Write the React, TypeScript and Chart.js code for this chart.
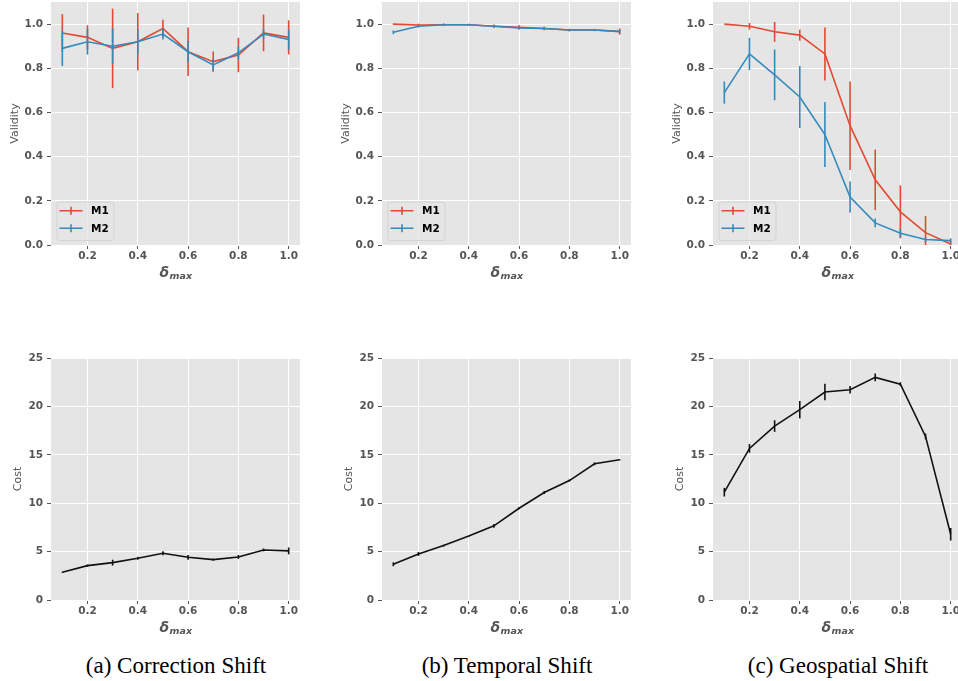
import React, { useEffect, useRef } from "react";
import { Chart, registerables } from "chart.js";

Chart.register(...registerables);

// ---------------- data ----------------
const deltaValues = [0.1, 0.2, 0.3, 0.4, 0.5, 0.6, 0.7, 0.8, 0.9, 1.0];
const xTickValues = [0.2, 0.4, 0.6, 0.8, 1.0];
const validityTicks = [0, 0.2, 0.4, 0.6, 0.8, 1.0];
const costTicks = [0, 5, 10, 15, 20, 25];

const corrM1 = [0.96, 0.94, 0.89, 0.92, 0.98, 0.875, 0.83, 0.86, 0.96, 0.94];
const corrM1Err = [0.085, 0.055, 0.18, 0.13, 0.04, 0.11, 0.046, 0.078, 0.083, 0.077];
const corrM2 = [0.89, 0.92, 0.9, 0.92, 0.955, 0.875, 0.815, 0.87, 0.955, 0.93];
const corrM2Err = [0.08, 0.058, 0.08, 0.057, 0.025, 0.048, 0.027, 0.03, 0.022, 0.045];

const tempM1 = [1.0, 0.996, 0.997, 0.997, 0.99, 0.985, 0.98, 0.973, 0.973, 0.966];
const tempM1Err = [0.002, 0.006, 0.006, 0.005, 0.008, 0.01, 0.008, 0.006, 0.005, 0.014];
const tempM2 = [0.963, 0.99, 0.997, 0.997, 0.99, 0.983, 0.98, 0.973, 0.973, 0.967];
const tempM2Err = [0.008, 0.006, 0.003, 0.003, 0.005, 0.006, 0.005, 0.005, 0.004, 0.008];

const geoM1 = [1.0, 0.99, 0.965, 0.95, 0.865, 0.54, 0.295, 0.15, 0.056, 0.005];
const geoM1Err = [0.0, 0.015, 0.045, 0.025, 0.12, 0.2, 0.137, 0.12, 0.075, 0.01];
const geoM2 = [0.69, 0.865, 0.77, 0.67, 0.5, 0.217, 0.1, 0.053, 0.025, 0.02];
const geoM2Err = [0.05, 0.073, 0.115, 0.14, 0.147, 0.07, 0.02, 0.018, 0.01, 0.01];

const corrCost = [2.86, 3.55, 3.86, 4.31, 4.83, 4.41, 4.17, 4.45, 5.17, 5.07];
const corrCostErr = [0.05, 0.12, 0.3, 0.15, 0.2, 0.25, 0.1, 0.2, 0.15, 0.35];
const tempCost = [3.69, 4.76, 5.62, 6.6, 7.66, 9.48, 11.1, 12.34, 14.07, 14.48];
const tempCostErr = [0.2, 0.2, 0.1, 0.05, 0.2, 0.1, 0.15, 0.1, 0.15, 0.05];
const geoCost = [11.14, 15.66, 17.97, 19.66, 21.48, 21.72, 23.0, 22.3, 16.9, 6.79];
const geoCostErr = [0.45, 0.45, 0.6, 0.9, 0.85, 0.4, 0.4, 0.2, 0.3, 0.65];

const captions = ["(a) Correction Shift", "(b) Temporal Shift", "(c) Geospatial Shift"];

// ---------------- style ----------------
const FONT = "'DejaVu Sans', 'Noto Sans', sans-serif";
const RED = "#E24A33";
const BLUE = "#348ABD";
const BLACK = "#111111";
const GRAY_BG = "#E5E5E5";
const TEXT_GRAY = "#555555";

const YW = 50; // y-axis box width
const PT = 12; // layout padding top
const PR = 14; // layout padding right
const XH = 40; // x-axis box height
const PLOT_W = 249;

const colLeft = [51, 382, 713];
const rowTop = [2, 358];
const rowH = [243, 242];

// ---------------- plugins ----------------
const bgPlugin = {
  id: "bgArea",
  beforeDraw(chart: any) {
    const a = chart.chartArea;
    const ctx = chart.ctx;
    ctx.save();
    ctx.fillStyle = GRAY_BG;
    ctx.fillRect(a.left, a.top, a.right - a.left, a.bottom - a.top);
    ctx.restore();
  },
};

const errorBarPlugin = {
  id: "errorBars",
  afterDatasetDraw(chart: any, args: any) {
    const ds: any = chart.data.datasets[args.index];
    if (!ds.errors) return;
    const xs = chart.scales.x;
    const ys = chart.scales.y;
    const a = chart.chartArea;
    const ctx = chart.ctx;
    ctx.save();
    ctx.beginPath();
    ctx.rect(a.left, a.top, a.right - a.left, a.bottom - a.top);
    ctx.clip();
    ctx.strokeStyle = ds.borderColor;
    ctx.lineWidth = 1.6;
    ds.data.forEach((p: any, i: number) => {
      const e = Math.max(ds.errors[i], 0.0001);
      const x = xs.getPixelForValue(p.x);
      ctx.beginPath();
      ctx.moveTo(x, ys.getPixelForValue(p.y - e));
      ctx.lineTo(x, ys.getPixelForValue(p.y + e));
      ctx.stroke();
    });
    ctx.restore();
  },
};

const insetLegendPlugin = {
  id: "insetLegend",
  afterDraw(chart: any, _args: any, opts: any) {
    if (!opts || !opts.show) return;
    const a = chart.chartArea;
    const ctx = chart.ctx;
    const bx = a.left + 5.5;
    const by = a.bottom - 43.5;
    const bw = 57;
    const bh = 38.5;
    ctx.save();
    ctx.fillStyle = "rgba(229,229,229,0.8)";
    ctx.strokeStyle = "#D3D3D3";
    ctx.lineWidth = 1;
    ctx.beginPath();
    if (ctx.roundRect) ctx.roundRect(bx + 0.5, by + 0.5, bw, bh, 3);
    else ctx.rect(bx + 0.5, by + 0.5, bw, bh);
    ctx.fill();
    ctx.stroke();
    const dss = [...chart.data.datasets];
    dss.forEach((ds: any, i: number) => {
      const cy = a.bottom - 34.3 + i * 17.6;
      ctx.strokeStyle = ds.borderColor;
      ctx.lineWidth = 1.6;
      ctx.beginPath();
      ctx.moveTo(bx + 3, cy);
      ctx.lineTo(bx + 26, cy);
      ctx.moveTo(bx + 14.5, cy - 4);
      ctx.lineTo(bx + 14.5, cy + 4);
      ctx.stroke();
      ctx.fillStyle = "#000000";
      ctx.font = `bold 10.5px ${FONT}`;
      ctx.textBaseline = "middle";
      ctx.textAlign = "left";
      ctx.fillText(ds.label, bx + 34.5, cy + 0.5);
    });
    ctx.restore();
  },
};

const deltaTitlePlugin = {
  id: "deltaTitle",
  afterDraw(chart: any) {
    const a = chart.chartArea;
    const ctx = chart.ctx;
    const cx = (a.left + a.right) / 2;
    const base = a.bottom + 31.5;
    ctx.save();
    ctx.fillStyle = TEXT_GRAY;
    ctx.textBaseline = "alphabetic";
    ctx.textAlign = "left";
    ctx.font = `italic bold 14px ${FONT}`;
    const w1 = ctx.measureText("δ").width;
    ctx.font = `italic bold 9.5px ${FONT}`;
    const w2 = ctx.measureText("max").width;
    const x0 = cx - (w1 + w2) / 2;
    ctx.font = `italic bold 14px ${FONT}`;
    ctx.fillText("δ", x0, base);
    ctx.font = `italic bold 9.5px ${FONT}`;
    ctx.fillText("max", x0 + w1 + 0.5, base + 2.2);
    ctx.restore();
  },
};

// ---------------- panels ----------------
type Series = { label: string; values: number[]; errors: number[]; color: string };
type PanelSpec = {
  col: number;
  row: number;
  series: Series[];
  yTitle: string;
  yTicks: number[];
  yMin: number;
  yMax: number;
  yFmt: (v: number) => string;
  titlePad: number;
  legend: boolean;
};

const panels: PanelSpec[] = [
  {
    col: 0, row: 0, yTitle: "Validity", yTicks: validityTicks, yMin: 0, yMax: 1.1,
    yFmt: (v) => v.toFixed(1), titlePad: 7.4, legend: true,
    series: [
      { label: "M1", values: corrM1, errors: corrM1Err, color: RED },
      { label: "M2", values: corrM2, errors: corrM2Err, color: BLUE },
    ],
  },
  {
    col: 1, row: 0, yTitle: "Validity", yTicks: validityTicks, yMin: 0, yMax: 1.1,
    yFmt: (v) => v.toFixed(1), titlePad: 7.4, legend: true,
    series: [
      { label: "M1", values: tempM1, errors: tempM1Err, color: RED },
      { label: "M2", values: tempM2, errors: tempM2Err, color: BLUE },
    ],
  },
  {
    col: 2, row: 0, yTitle: "Validity", yTicks: validityTicks, yMin: 0, yMax: 1.1,
    yFmt: (v) => v.toFixed(1), titlePad: 7.4, legend: true,
    series: [
      { label: "M1", values: geoM1, errors: geoM1Err, color: RED },
      { label: "M2", values: geoM2, errors: geoM2Err, color: BLUE },
    ],
  },
  {
    col: 0, row: 1, yTitle: "Cost", yTicks: costTicks, yMin: 0, yMax: 25,
    yFmt: (v) => String(Math.round(v)), titlePad: 10.7, legend: false,
    series: [{ label: "Cost", values: corrCost, errors: corrCostErr, color: BLACK }],
  },
  {
    col: 1, row: 1, yTitle: "Cost", yTicks: costTicks, yMin: 0, yMax: 25,
    yFmt: (v) => String(Math.round(v)), titlePad: 10.7, legend: false,
    series: [{ label: "Cost", values: tempCost, errors: tempCostErr, color: BLACK }],
  },
  {
    col: 2, row: 1, yTitle: "Cost", yTicks: costTicks, yMin: 0, yMax: 25,
    yFmt: (v) => String(Math.round(v)), titlePad: 10.7, legend: false,
    series: [{ label: "Cost", values: geoCost, errors: geoCostErr, color: BLACK }],
  },
];

function Panel({ spec }: { spec: PanelSpec }) {
  const ref = useRef<HTMLCanvasElement | null>(null);
  const width = YW + PLOT_W + PR;
  const height = PT + rowH[spec.row] + XH;
  const left = colLeft[spec.col] - YW;
  const top = rowTop[spec.row] - PT;

  useEffect(() => {
    if (!ref.current) return;
    const n = spec.series.length;
    const chart = new Chart(ref.current, {
      type: "line",
      data: {
        datasets: spec.series.map((s, i) => ({
          label: s.label,
          data: deltaValues.map((x, j) => ({ x, y: s.values[j] })),
          errors: s.errors,
          borderColor: s.color,
          backgroundColor: s.color,
          borderWidth: 1.6,
          pointRadius: 0,
          pointHoverRadius: 0,
          tension: 0,
          fill: false,
          order: n - i,
        })) as any,
      },
      options: {
        responsive: false,
        maintainAspectRatio: false,
        animation: false,
        devicePixelRatio: 1,
        events: [],
        layout: { padding: { top: PT, right: PR, left: 0, bottom: 0 } },
        plugins: {
          legend: { display: false },
          tooltip: { enabled: false },
          insetLegend: { show: spec.legend },
        } as any,
        scales: {
          x: {
            type: "linear",
            min: 0.055,
            max: 1.045,
            afterBuildTicks: (s: any) => {
              s.ticks = xTickValues.map((v) => ({ value: v }));
            },
            afterFit: (s: any) => {
              s.height = XH;
            },
            grid: { color: "#FFFFFF", lineWidth: 1, tickColor: TEXT_GRAY, tickLength: 4, drawTicks: true },
            border: { display: false },
            ticks: {
              color: TEXT_GRAY,
              font: { family: FONT, size: 10.5, weight: "bold", lineHeight: 1 },
              padding: 2,
              maxRotation: 0,
              autoSkip: false,
              callback: (v: any) => Number(v).toFixed(1),
            },
          },
          y: {
            type: "linear",
            min: spec.yMin,
            max: spec.yMax,
            afterBuildTicks: (s: any) => {
              s.ticks = spec.yTicks.map((v) => ({ value: v }));
            },
            afterFit: (s: any) => {
              s.width = YW;
            },
            grid: { color: "#FFFFFF", lineWidth: 1, tickColor: TEXT_GRAY, tickLength: 4, drawTicks: true },
            border: { display: false },
            ticks: {
              color: TEXT_GRAY,
              font: { family: FONT, size: 10.5, weight: "bold" },
              padding: 4,
              autoSkip: false,
              callback: (v: any) => spec.yFmt(Number(v)),
            },
            title: {
              display: true,
              text: spec.yTitle,
              color: TEXT_GRAY,
              font: { family: FONT, size: 11, weight: "normal", lineHeight: 1.2 },
              padding: { top: spec.titlePad, bottom: 0 },
            },
          },
        },
      } as any,
      plugins: [bgPlugin, errorBarPlugin, insetLegendPlugin, deltaTitlePlugin],
    });
    return () => chart.destroy();
  }, []);

  return (
    <canvas
      ref={ref}
      width={width}
      height={height}
      style={{ position: "absolute", left, top, width, height }}
    />
  );
}

export default function App() {
  return (
    <div
      style={{
        position: "absolute",
        left: 0,
        top: 0,
        width: 958,
        height: 681,
        overflow: "hidden",
        background: "#FFFFFF",
      }}
    >
      {panels.map((p, i) => (
        <Panel key={i} spec={p} />
      ))}
      {captions.map((c, i) => (
        <div
          key={c}
          style={{
            position: "absolute",
            left: colLeft[i] + PLOT_W / 2 - 150,
            top: 652,
            width: 300,
            height: 26,
            lineHeight: "26px",
            textAlign: "center",
            fontFamily: "'Liberation Serif', 'Times New Roman', serif",
            fontSize: 24,
            color: "#000",
            whiteSpace: "nowrap",
            transform: "scaleX(0.96)",
          }}
        >
          {c}
        </div>
      ))}
    </div>
  );
}
